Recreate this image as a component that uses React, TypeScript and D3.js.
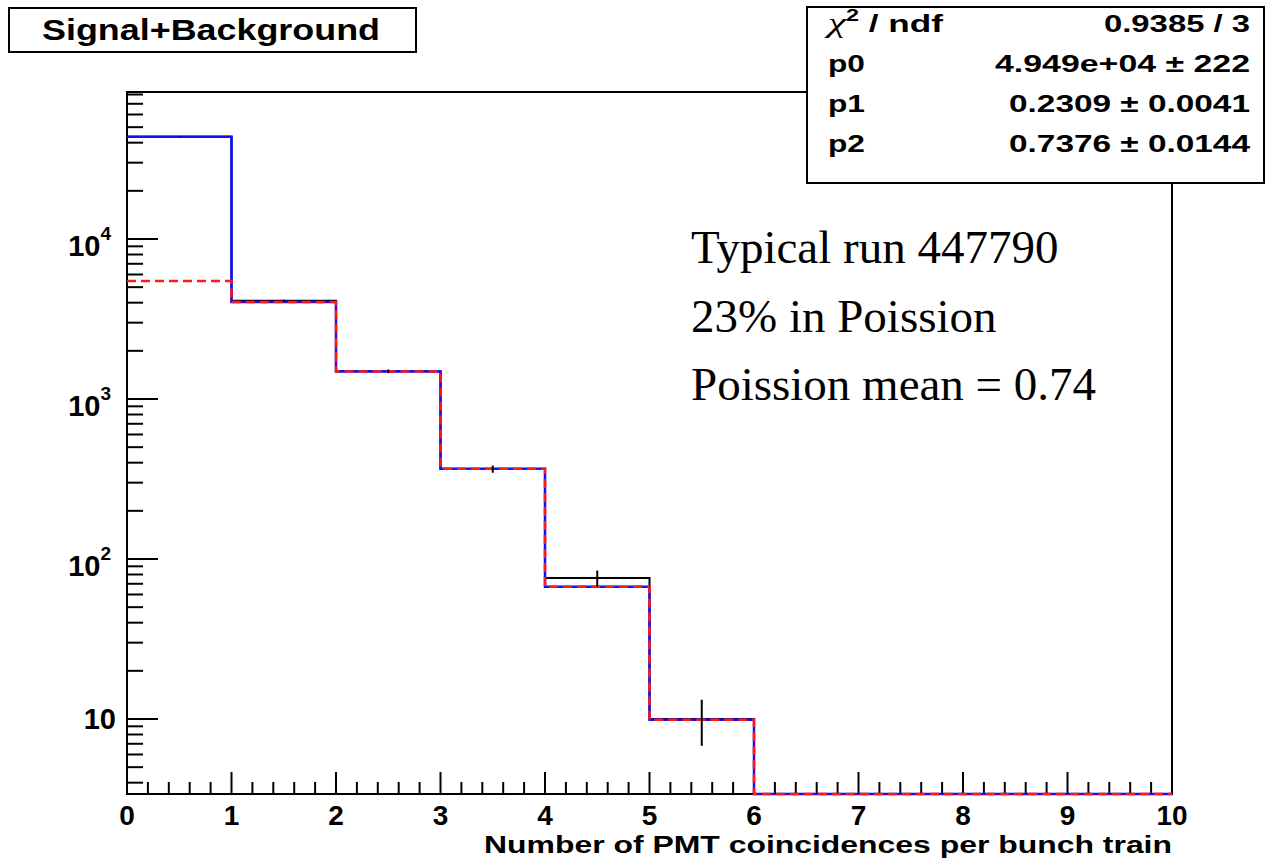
import React from 'react';
import * as d3 from 'd3';

// bin lower edges (unit width bins)
const binEdges = [0, 1, 2, 3, 4, 5, 6, 7, 8, 9];
// measured counts and their errors
const dataCounts = [43530, 4110, 1490, 365, 76, 10, 0, 0, 0, 0];
const dataErrors = [209, 64, 39, 19, 8.7, 3.2, 0, 0, 0, 0];
// fit: total (blue) and poisson part (red dashed)
const fitTotal = [43530, 4032, 1487, 366, 67, 9.9, 1.2, 0.13, 0.01, 0.001];
const fitPoisson = [5466, 4032, 1487, 366, 67, 9.9, 1.2, 0.13, 0.01, 0.001];

const xTickValues = [0, 1, 2, 3, 4, 5, 6, 7, 8, 9, 10];
const yTickValues = [10, 100, 1000, 10000];
const yTickLabels = [['10', ''], ['10', '2'], ['10', '3'], ['10', '4']];

const statNames = ['p0', 'p1', 'p2'];
const statValues = ['4.949e+04 \u00b1 222', '0.2309 \u00b1 0.0041', '0.7376 \u00b1 0.0144'];
const chiValue = '0.9385 / 3';

const noteLines = ['Typical run 447790', '23% in Poission', 'Poission mean = 0.74'];

const titleText = 'Signal+Background';
const xTitle = 'Number of PMT coincidences per bunch train';

const W = 1266;
const H = 867;
const frame = { left: 127, right: 1172, top: 92, bottom: 794 };
const yMin = 3.398;
const yMax = 82946;
const sans = 'Liberation Sans, Arial, Helvetica, sans-serif';
const serif = 'Liberation Serif, Times New Roman, serif';

export default function App() {
    const x = d3.scaleLinear().domain([0, 10]).range([frame.left, frame.right]);
    const y = d3.scaleLog().domain([yMin, yMax]).range([frame.bottom, frame.top]);
    const yv = (v: number) => y(Math.max(v, yMin));

    const stepLine = d3
        .line<[number, number]>()
        .x(d => x(d[0]))
        .y(d => yv(d[1]))
        .curve(d3.curveStepAfter);

    const stepPath = (vals: number[]) => {
        const pts: [number, number][] = binEdges.map((e, i) => [e, vals[i]]);
        pts.push([binEdges[binEdges.length - 1] + 1, vals[vals.length - 1]]);
        return stepLine(pts) || '';
    };

    // minor ticks
    const yMinor: number[] = [];
    for (let k = 0; k <= 4; k++) {
        for (let m = 2; m <= 9; m++) {
            const v = m * Math.pow(10, k);
            if (v >= yMin && v <= yMax) yMinor.push(v);
        }
    }
    const xMinor: number[] = [];
    for (let i = 0; i < 50; i++) {
        if (i % 5 !== 0) xMinor.push(i * 0.2);
    }

    return (
        <svg width={W} height={H} style={{ position: 'absolute', left: 0, top: 0, background: '#fff' }}>
            {/* frame */}
            <rect x={frame.left} y={frame.top} width={frame.right - frame.left} height={frame.bottom - frame.top}
                fill="none" stroke="#000" strokeWidth={2} />

            {/* y ticks */}
            {yTickValues.map(v => (
                <line key={'ym' + v} x1={frame.left} x2={frame.left + 31} y1={y(v)} y2={y(v)} stroke="#000" strokeWidth={2} />
            ))}
            {yMinor.map(v => (
                <line key={'yn' + v} x1={frame.left} x2={frame.left + 16} y1={y(v)} y2={y(v)} stroke="#000" strokeWidth={2} />
            ))}
            {/* x ticks */}
            {xTickValues.map(v => (
                <line key={'xm' + v} x1={x(v)} x2={x(v)} y1={frame.bottom} y2={frame.bottom - 22} stroke="#000" strokeWidth={2} />
            ))}
            {xMinor.map(v => (
                <line key={'xn' + v} x1={x(v)} x2={x(v)} y1={frame.bottom} y2={frame.bottom - 12} stroke="#000" strokeWidth={2} />
            ))}

            {/* tick labels */}
            {xTickValues.map(v => (
                <text key={'xl' + v} x={x(v)} y={825} textAnchor="middle" fontFamily={sans} fontWeight="bold" fontSize={28}>{v}</text>
            ))}
            {yTickValues.map((v, i) => {
                const [base, exp] = yTickLabels[i];
                if (!exp) {
                    return <text key={'yl' + v} x={116} y={y(v) + 10} textAnchor="end" fontFamily={sans} fontWeight="bold" fontSize={29}>{base}</text>;
                }
                return (
                    <text key={'yl' + v} x={111} y={y(v) + 17} textAnchor="end" fontFamily={sans} fontWeight="bold" fontSize={29}>
                        {base}
                        <tspan fontSize={19} dy={-16}>{exp}</tspan>
                    </text>
                );
            })}

            {/* axis title */}
            <text x={frame.right} y={853} textAnchor="end" fontFamily={sans} fontWeight="bold" fontSize={23}
                textLength={688} lengthAdjust="spacingAndGlyphs">{xTitle}</text>

            {/* data histogram */}
            <path d={stepPath(dataCounts)} fill="none" stroke="#000" strokeWidth={2} />
            {/* fit */}
            <path d={stepPath(fitTotal)} fill="none" stroke="#1010ff" strokeWidth={2.5} />
            <path d={stepPath(fitPoisson)} fill="none" stroke="#ff1a1a" strokeWidth={2.5} strokeDasharray="9,5" />
            {/* error bars */}
            {dataCounts.map((c, i) => c > 0 ? (
                <line key={'e' + i} x1={x(binEdges[i] + 0.5)} x2={x(binEdges[i] + 0.5)}
                    y1={yv(c + dataErrors[i])} y2={yv(c - dataErrors[i])} stroke="#000" strokeWidth={2} />
            ) : null)}

            {/* title box */}
            <rect x={9} y={8} width={407} height={44} fill="#fff" stroke="#000" strokeWidth={2} />
            <text x={42} y={40} fontFamily={sans} fontWeight="bold" fontSize={29}
                textLength={338} lengthAdjust="spacingAndGlyphs">{titleText}</text>

            {/* stats box */}
            <rect x={807} y={7} width={457} height={176} fill="#fff" stroke="#000" strokeWidth={2} />
            <text x={828} y={32} fontFamily={sans} fontWeight="bold" fontSize={24}
                textLength={115} lengthAdjust="spacingAndGlyphs">
                <tspan fontFamily={serif} fontStyle="italic" fontWeight="normal" fontSize={28}>{'\u03c7'}</tspan>
                <tspan fontSize={16} dy={-11}>2</tspan><tspan dy={11}>{' / ndf'}</tspan>
            </text>
            <text x={1250} y={32} textAnchor="end" fontFamily={sans} fontWeight="bold" fontSize={24}
                textLength={146} lengthAdjust="spacingAndGlyphs">{chiValue}</text>
            {statNames.map((n, i) => (
                <g key={n}>
                    <text x={828} y={72 + i * 40} fontFamily={sans} fontWeight="bold" fontSize={24}
                        textLength={37} lengthAdjust="spacingAndGlyphs">{n}</text>
                    <text x={1250} y={72 + i * 40} textAnchor="end" fontFamily={sans} fontWeight="bold" fontSize={24}
                        textLength={i === 0 ? 255 : 241} lengthAdjust="spacingAndGlyphs">{statValues[i]}</text>
                </g>
            ))}

            {/* annotation */}
            {noteLines.map((t, i) => (
                <text key={t} x={691} y={263 + i * 68.5} fontFamily={serif} fontSize={47}>{t}</text>
            ))}
        </svg>
    );
}
